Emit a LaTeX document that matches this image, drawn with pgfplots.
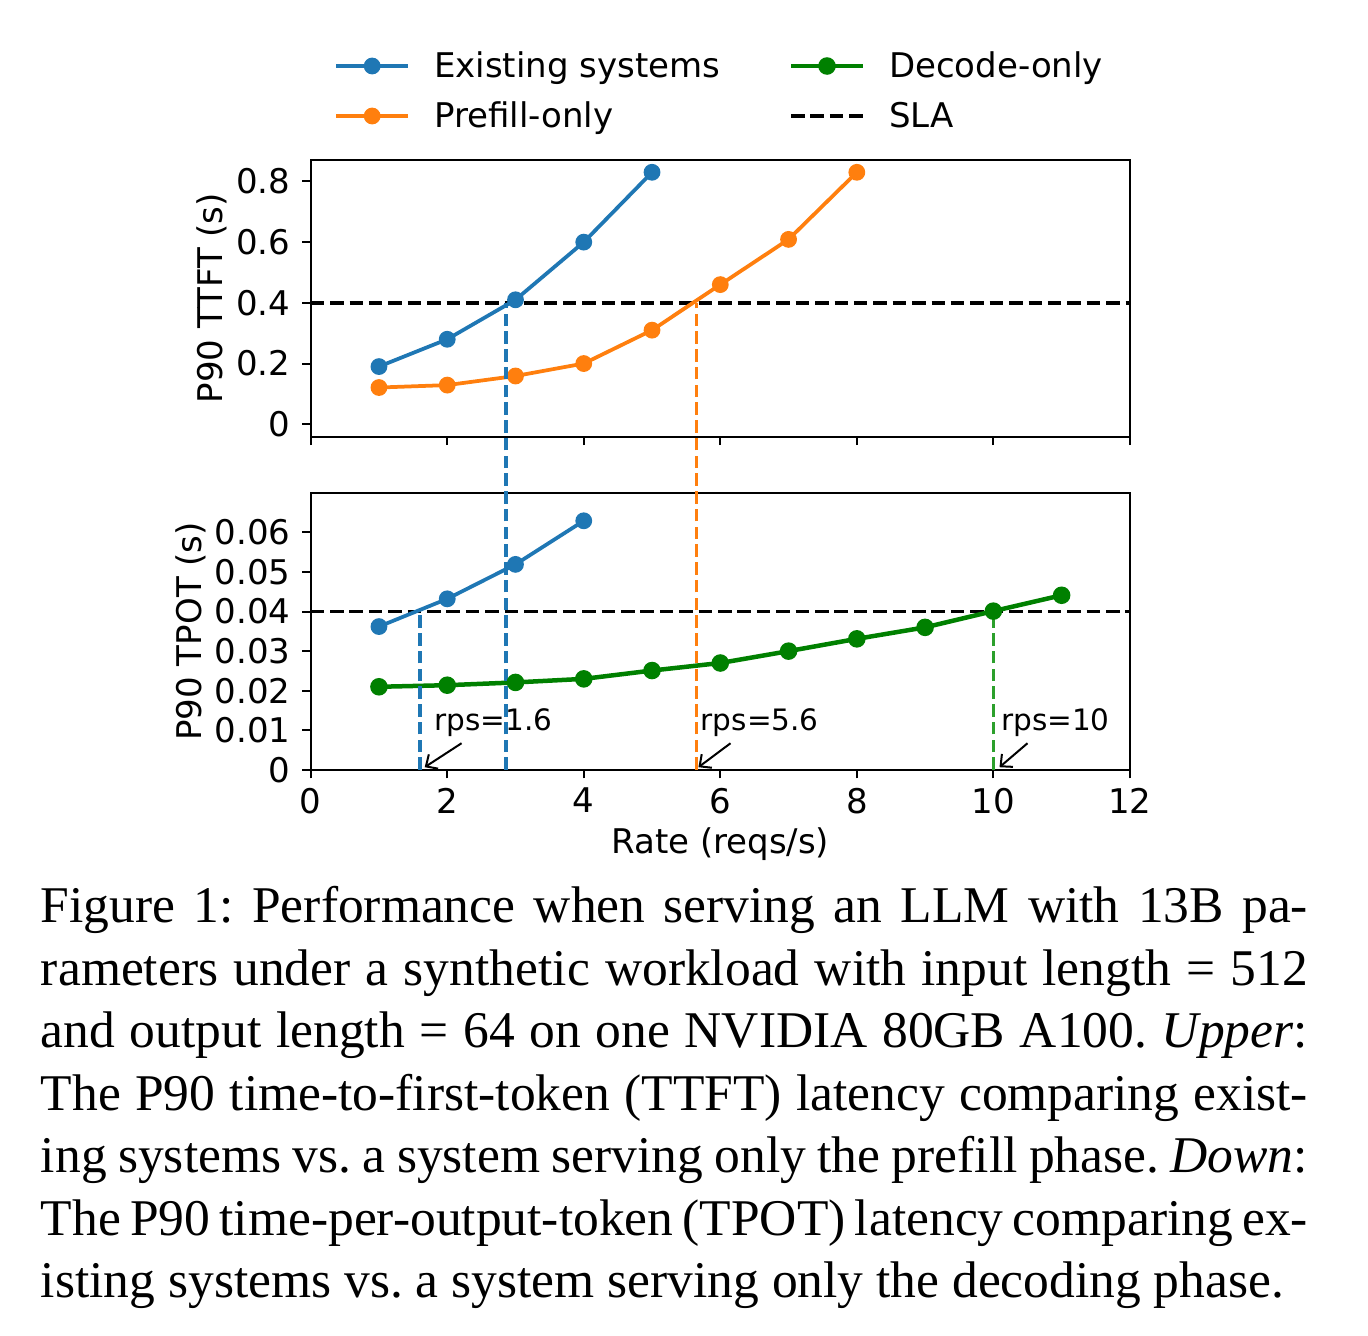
\documentclass[border=0pt]{standalone}
\usepackage{fontspec}
\setmainfont{DejaVu Sans}
\newfontfamily\capfont{Liberation Serif}
\usepackage{pgfplots}
\pgfplotsset{compat=1.18}
\usetikzlibrary{arrows.meta}

\definecolor{tabblue}{HTML}{1F77B4}
\definecolor{taborange}{HTML}{FF7F0E}
\definecolor{mplgreen}{HTML}{008000}
\definecolor{tabgreen}{HTML}{2CA02C}

\newcommand\mainsize{\fontsize{6.8pt}{8pt}\selectfont}
\newcommand\notesize{\fontsize{5.9pt}{7pt}\selectfont}

\tikzset{
  note/.style={anchor=base west, inner sep=0pt, font=\notesize},
  pointer/.style={black, line width=0.4pt, -{Straight Barb[length=1.8pt,width=3.4pt]}},
}

\pgfplotsset{
  panel/.style={
    scale only axis, width=163.84pt,
    xmin=0, xmax=12,
    axis line style={line width=0.4pt},
    tick align=outside, major tick length=1.7pt,
    every tick/.style={black, line width=0.4pt},
    xtick pos=bottom, ytick pos=left,
    scaled y ticks=false, scaled x ticks=false,
    tick label style={font=\mainsize},
    label style={font=\mainsize},
    yticklabel style={anchor=east, inner sep=0pt, xshift=-2.16pt},
    xticklabel style={anchor=north, inner sep=0pt, yshift=-1.7pt},
    /pgf/number format/assume math mode=true,
  },
  sblue/.style={color=tabblue, line width=0.75pt, mark=*, mark size=1.3pt,
    mark options={solid, fill=tabblue, draw=tabblue}},
  sorange/.style={color=taborange, line width=0.75pt, mark=*, mark size=1.3pt,
    mark options={solid, fill=taborange, draw=taborange}},
  sgreen/.style={color=mplgreen, line width=0.9pt, mark=*, mark size=1.3pt,
    mark options={solid, fill=mplgreen, draw=mplgreen}},
  sla/.style={color=black, line width=0.75pt, dash pattern=on 2.7pt off 1.18pt},
  vdash/.style={line width=0.7pt, dash pattern=on 2.5pt off 1.05pt},
}

\begin{document}
\begin{tikzpicture}
\path[use as bounding box] (0,0) rectangle (273.6pt,267.2pt);

% upper panel: time to first token
\begin{axis}[panel,
  at={(62.14pt,179.86pt)}, anchor=south west, height=55.4pt,
  ymin=-0.0409, ymax=0.8716,
  ytick={0,0.2,0.4,0.6,0.8}, yticklabels={0,0.2,0.4,0.6,0.8},
  xtick={0,2,4,6,8,10,12}, xticklabels={},
  ylabel={P90 TTFT (s)},
  ylabel style={at={(axis description cs:-0.1209,0.5)}, anchor=center},
  legend columns=2, legend cell align=left,
  legend style={draw=none, fill=none, inner sep=0pt, outer sep=0pt,
    at={(0.0288,1.4076)}, anchor=north west, font=\mainsize,
    row sep=2.3pt, column sep=0pt,
    nodes={inner sep=0pt, text height=6.1pt, text depth=1.6pt},
    /tikz/every even column/.append style={column sep=13.7pt}},
  legend image code/.code={
    \draw[mark repeat=2, mark phase=2, #1] plot coordinates {(0pt,0pt) (7.2pt,0pt) (14.4pt,0pt)};
    \path[draw=none, fill=none] (0pt,0pt) -- (19.6pt,0pt);},
]
\addlegendimage{sblue}\addlegendentry{Existing systems}
\addlegendimage{sgreen}\addlegendentry{Decode-only}
\addlegendimage{sorange}\addlegendentry{Prefill-only}
\addlegendimage{sla}\addlegendentry{SLA}

\addplot[sla, forget plot] coordinates {(0,0.4) (12,0.4)};
\addplot[sblue, forget plot] coordinates {
  (1,0.190) (2,0.280) (3,0.410) (4,0.600) (5,0.830)};
\addplot[sorange, forget plot] coordinates {
  (1,0.121) (2,0.129) (3,0.159) (4,0.200) (5,0.310) (6,0.460) (7,0.609) (8,0.830)};
\end{axis}

% lower panel: time per output token
\begin{axis}[panel,
  at={(62.14pt,113.2pt)}, anchor=south west, height=55.46pt,
  ymin=0, ymax=0.07, clip=false,
  ytick={0,0.01,0.02,0.03,0.04,0.05,0.06},
  yticklabels={0,0.01,0.02,0.03,0.04,0.05,0.06},
  xtick={0,2,4,6,8,10,12}, xticklabels={0,2,4,6,8,10,12},
  ylabel={P90 TPOT (s)},
  ylabel style={at={(axis description cs:-0.1465,0.5)}, anchor=center},
  xlabel={Rate (reqs/s)},
  xlabel style={at={(axis description cs:0.5,-0.267)}, anchor=center},
]
\addplot[sla] coordinates {(0,0.04) (12,0.04)};
\addplot[sblue] coordinates {
  (1,0.0362) (2,0.0432) (3,0.0519) (4,0.0629)};
\addplot[sgreen] coordinates {
  (1,0.0210) (2,0.0214) (3,0.0221) (4,0.0230) (5,0.0251) (6,0.0270)
  (7,0.0300) (8,0.0331) (9,0.0360) (10,0.0401) (11,0.0441)};

% SLA crossings, carried down from the upper panel
\addplot[vdash, tabblue] coordinates {(2.86,0) (2.86,0.1179)};
\addplot[vdash, taborange] coordinates {(5.655,0) (5.655,0.1179)};
\addplot[vdash, tabblue] coordinates {(1.6,0) (1.6,0.04)};
\addplot[vdash, tabgreen] coordinates {(10,0) (10,0.04)};

\node[note] at (axis cs:1.8,0.01) {rps=1.6};
\node[note] at (axis cs:5.7,0.01) {rps=5.6};
\node[note] at (axis cs:10.1,0.01) {rps=10};
\draw[pointer] (axis cs:2.21,0.00675) -- (axis cs:1.67,0.0007);
\draw[pointer] (axis cs:6.15,0.00675) -- (axis cs:5.68,0.0007);
\draw[pointer] (axis cs:10.5,0.00675) -- (axis cs:10.09,0.0007);
\end{axis}

% caption
\node[anchor=base west, inner sep=0pt] at (8pt,82.6pt) {\parbox[t]{253.4pt}{%
  \capfont\fontsize{10.3pt}{12.5pt}\selectfont\frenchspacing\setlength\parindent{0pt}%
  \makebox[253.4pt][s]{Figure 1: Performance when serving an LLM with 13B pa-}\par
  \makebox[253.4pt][s]{rameters under a synthetic workload with input length = 512}\par
  \makebox[253.4pt][s]{and output length = 64 on one NVIDIA 80GB A100. \textit{Upper}:}\par
  \makebox[253.4pt][s]{The P90 time-to-first-token (TTFT) latency comparing exist-}\par
  \makebox[253.4pt][s]{ing systems vs. a system serving only the prefill phase. \textit{Down}:}\par
  \makebox[253.4pt][s]{The P90 time-per-output-token (TPOT) latency comparing ex-}\par
  \makebox[253.4pt][l]{isting systems vs. a system serving only the decoding phase.}}};
\end{tikzpicture}
\end{document}
